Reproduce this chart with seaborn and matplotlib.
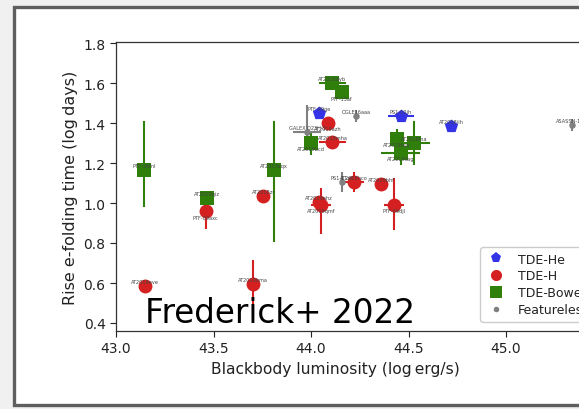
import matplotlib
matplotlib.use("Agg")
import matplotlib.pyplot as plt
from matplotlib.patches import Rectangle
from matplotlib.lines import Line2D
import seaborn as sns
import pandas as pd

# ---- data: log L_bb [erg/s], log rise e-folding time [days] ----
he_names = ["PTF-09ge", "PS1-10jh", "AT2018iih"]
he_lum = [44.04, 44.46, 44.72]
he_rise = [1.45, 1.435, 1.385]
he_xerr = [0.0, 0.067, 0.03]
he_yerr_lo = [0.0, 0.02, 0.0]
he_yerr_hi = [0.0, 0.02, 0.0]

h_names = ["AT2019eve", "PTF-09axc", "AT2018zr", "AT2019bma", "AT2019azh",
           "AT2019mha", "AT2019ehz", "AT2019qmf", "AT2018hco", "AT2019bhf",
           "PTF-09djl"]
h_lum = [43.149, 43.46, 43.755, 43.70, 44.086, 44.11, 44.04, 44.05, 44.22,
         44.36, 44.425]
h_rise = [0.587, 0.958, 1.037, 0.593, 1.40, 1.305, 1.005, 0.99, 1.105,
          1.095, 0.99]
h_xerr = [0.0, 0.0, 0.0, 0.0, 0.0, 0.07, 0.0, 0.05, 0.05, 0.0, 0.05]
h_yerr_lo = [0.02, 0.09, 0.0, 0.16, 0.0, 0.0, 0.0, 0.145, 0.05, 0.02, 0.123]
h_yerr_hi = [0.02, 0.05, 0.0, 0.123, 0.0, 0.0, 0.0, 0.085, 0.05, 0.02, 0.135]

b_names = ["PTF-16fnl", "AT2019qiz", "AT2017eqx", "AT2018dyb", "PTF-15af",
           "AT2019bcd", "AT2019teq", "AT2018lna", "AT2019dsg"]
b_lum = [43.144, 43.465, 43.81, 44.11, 44.157, 43.998, 44.44, 44.53, 44.46]
b_rise = [1.165, 1.025, 1.165, 1.60, 1.553, 1.30, 1.32, 1.30, 1.25]
b_xerr = [0.0, 0.0, 0.03, 0.07, 0.0, 0.0, 0.03, 0.08, 0.1]
b_yerr_lo = [0.185, 0.0, 0.36, 0.02, 0.03, 0.06, 0.05, 0.11, 0.06]
b_yerr_hi = [0.245, 0.0, 0.245, 0.02, 0.03, 0.06, 0.05, 0.11, 0.06]

f_names = ["GALEX D23H-1", "OGLE16aaa", "PS1-11af", "ASASSN-15oi"]
f_lum = [43.98, 44.23, 44.157, 45.34]
f_rise = [1.356, 1.435, 1.103, 1.39]
f_xerr = [0.07, 0.0, 0.0, 0.0]
f_yerr_lo = [0.086, 0.03, 0.05, 0.03]
f_yerr_hi = [0.134, 0.03, 0.05, 0.03]

x_ticks = [43.0, 43.5, 44.0, 44.5, 45.0]
y_ticks = [0.4, 0.6, 0.8, 1.0, 1.2, 1.4, 1.6, 1.8]

# names whose annotation sits under the marker
below = {"PTF-09axc", "AT2019qmf", "AT2019azh", "AT2019bcd", "AT2019teq",
         "AT2019dsg", "PTF-09djl", "PTF-15af"}

sns.set_theme(style="ticks")
plt.rcParams["font.family"] = ["DejaVu Sans"]

fig = plt.figure(figsize=(5.79, 4.10), dpi=100)
fig.patch.set_facecolor("#f0f0f0")
W, H = 579.0, 410.0
fig.patches.append(Rectangle((13.5 / W, 1 - 405.5 / H), 0.99, (405.5 - 7.5) / H,
                             transform=fig.transFigure, facecolor="white",
                             edgecolor="#5e5e5e", linewidth=2.4, zorder=-5))

ax = fig.add_axes([116 / W, 78 / H, 507 / W, 289 / H])
ax.set_zorder(2)
ax.set_facecolor("white")

groups = [
    ("TDE-He", "#3434e6", "p", 100, he_names, he_lum, he_rise, he_xerr, he_yerr_lo, he_yerr_hi),
    ("TDE-H", "#d42020", "o", 100, h_names, h_lum, h_rise, h_xerr, h_yerr_lo, h_yerr_hi),
    ("TDE-Bowen", "#2f7f0a", "s", 100, b_names, b_lum, b_rise, b_xerr, b_yerr_lo, b_yerr_hi),
    ("Featureless", "#808080", "o", 22, f_names, f_lum, f_rise, f_xerr, f_yerr_lo, f_yerr_hi),
]

handles = []
for label, color, marker, size, names, lum, rise, xerr, ylo, yhi in groups:
    df = pd.DataFrame({"lum": lum, "rise": rise, "name": names})
    ax.errorbar(lum, rise, xerr=xerr, yerr=[ylo, yhi], fmt="none",
                ecolor=color, elinewidth=1.5, capsize=0, zorder=2)
    sns.scatterplot(data=df, x="lum", y="rise", ax=ax, color=color,
                    marker=marker, s=size, linewidth=0, zorder=3, legend=False)
    for n, xv, yv in zip(names, lum, rise):
        dy = -0.028 if n in below else 0.022
        ax.text(xv, yv + dy, n, fontsize=3.6, color="#444444",
                ha="center", va="center", zorder=4)
    ms = 8 if size > 50 else 4
    handles.append(Line2D([], [], linestyle="none", marker=marker, color=color,
                          markersize=ms, markeredgewidth=0, label=label))

ax.set_xlim(43.0, 45.6)
ax.set_ylim(0.36, 1.805)
ax.set_xticks(x_ticks)
ax.set_yticks(y_ticks)
ax.tick_params(labelsize=10, length=4, width=0.8, colors="#222222")
for sp in ax.spines.values():
    sp.set_visible(True)
    sp.set_linewidth(0.9)
    sp.set_color("#333333")

ax.set_xlabel("Blackbody luminosity (log\u2009erg/s)", fontsize=11.2, color="#222222")
ax.set_ylabel("Rise e-folding time (log\u2009days)", fontsize=11.5, color="#222222")
ax.xaxis.set_label_coords((335 - 116) / 507, -0.105)

fig.text(145 / W, 1 - 323 / H, "Frederick+ 2022", fontsize=23.5, color="black",
         ha="left", va="baseline", zorder=10)

leg = ax.legend(handles=handles, loc="upper left",
                bbox_to_anchor=((480 - 116) / 507, (332 - 248) / 289),
                borderaxespad=0, fontsize=9, frameon=True, borderpad=0.45,
                labelspacing=0.3, handletextpad=1.0, handlelength=1.6,
                framealpha=1)
leg.get_frame().set_edgecolor("#cccccc")
for t in leg.get_texts():
    t.set_color("#222222")

fig.savefig("out.png", dpi=100, facecolor=fig.get_facecolor())
